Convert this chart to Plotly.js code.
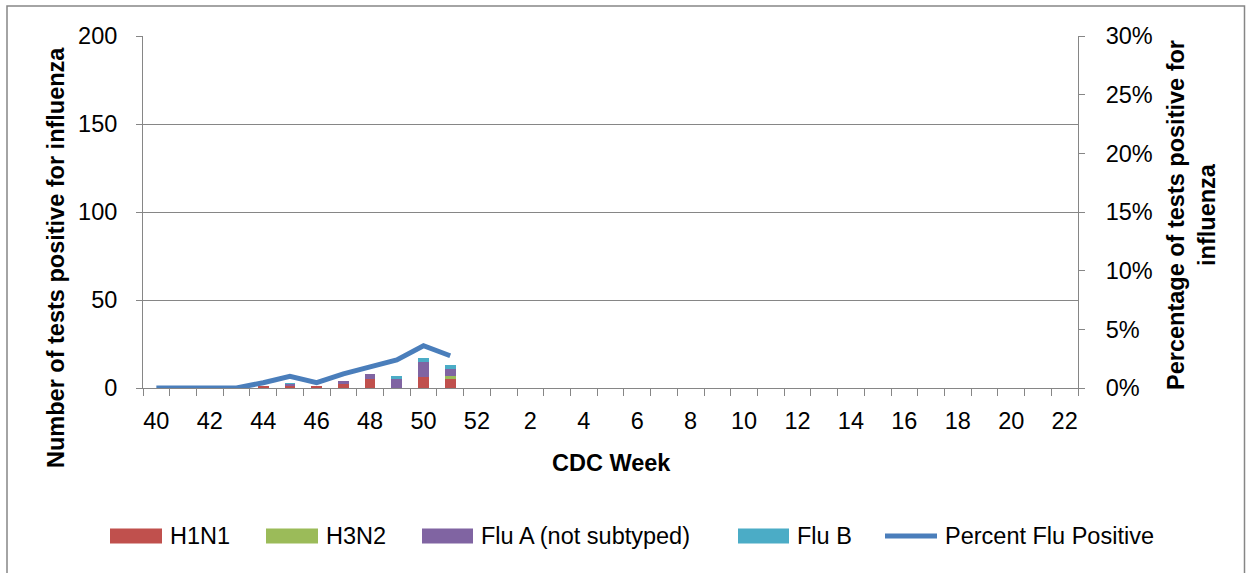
<!DOCTYPE html>
<html>
<head>
<meta charset="utf-8">
<script src="https://cdn.plot.ly/plotly-3.0.1.min.js"></script>
<style>
  html, body { margin: 0; padding: 0; background: #fff; }
  #chart { width: 1246px; height: 573px; }
</style>
</head>
<body>
<div id="chart"></div>
<script>
// ---- Data ----
const weeks = ["40","41","42","43","44","45","46","47","48","49","50","51","52",
  "1","2","3","4","5","6","7","8","9","10","11","12","13","14","15","16","17","18","19","20","21","22"];
const h1n1  = [0,0,0,0,1,1,1,2,5,0,6,5];
const h3n2  = [0,0,0,0,0,0,0,0,0,0,0,2];
const fluA  = [0,0,0,0,0,1,0,2,3,5,9,4];
const fluB  = [0,0,0,0,0,1,0,0,0,2,2,2];
const pctPositive = [0,0,0,0,0.0045,0.010,0.0045,0.012,0.018,0.024,0.036,0.0275];
const seriesNames = ["H1N1","H3N2","Flu A (not subtyped)","Flu B","Percent Flu Positive"];
const tickLabels = weeks.map((w, i) => (i % 2 === 0 ? w : ""));

// ---- Styles ----
const colors = ["#C0504D","#9BBB59","#8064A2","#4BACC6","#4A7EBB"];
const FONT = "Liberation Sans, Arial, sans-serif";
const FS = 23.5;
const GRID = "#868686";

// plot area in pixels
const L = 143, R = 1078, T = 36, B = 388;
const W = R - L, H = B - T;
const px2x = p => (p - L) / W;
const py2y = p => (B - p) / H;

const barSeries = [h1n1, h3n2, fluA, fluB];
const traces = barSeries.map((vals, i) => ({
  type: "bar",
  name: seriesNames[i],
  x: weeks.slice(0, vals.length),
  y: vals,
  marker: { color: colors[i], line: { width: 0 } },
  showlegend: false,
  hoverinfo: "x+y+name"
}));
traces.push({
  type: "scatter",
  mode: "lines",
  name: seriesNames[4],
  x: weeks.slice(0, pctPositive.length),
  y: pctPositive,
  yaxis: "y2",
  line: { color: colors[4], width: 5 },
  showlegend: false
});

// manual legend (Excel-like wide swatches)
const legendX = [110, 266, 422, 738, 883];
const legendTextGap = [58, 58, 57, 57, 60];
const legendSwatchW = [52, 52, 51, 51, 56];
const legendY = 536;
const shapes = [];
const annotations = [];
seriesNames.forEach((name, i) => {
  if (i < 4) {
    shapes.push({
      type: "rect", xref: "paper", yref: "paper",
      x0: px2x(legendX[i]), x1: px2x(legendX[i] + legendSwatchW[i]),
      y0: py2y(legendY + 7.5), y1: py2y(legendY - 7.5),
      fillcolor: colors[i], line: { width: 0 }
    });
  } else {
    shapes.push({
      type: "line", xref: "paper", yref: "paper",
      x0: px2x(legendX[i] + 2), x1: px2x(legendX[i] + legendSwatchW[i] - 2),
      y0: py2y(legendY), y1: py2y(legendY),
      line: { color: colors[i], width: 5 }
    });
  }
  annotations.push({
    xref: "paper", yref: "paper",
    x: px2x(legendX[i] + legendTextGap[i]), y: py2y(legendY),
    xanchor: "left", yanchor: "middle",
    text: name, showarrow: false,
    font: { family: FONT, size: FS, color: "#000" }
  });
});

// outer chart border
shapes.push({
  type: "rect", xref: "paper", yref: "paper",
  x0: px2x(7), x1: px2x(1244.5), y0: py2y(620), y1: py2y(6),
  line: { color: GRID, width: 1.5 }, fillcolor: "rgba(0,0,0,0)"
});

// axis titles
annotations.push({
  xref: "paper", yref: "paper", x: px2x(56), y: py2y(258),
  xanchor: "center", yanchor: "middle", textangle: -90,
  text: "<b>Number of tests positive for influenza</b>", showarrow: false,
  font: { family: FONT, size: FS, color: "#000" }
});
annotations.push({
  xref: "paper", yref: "paper", x: px2x(1191), y: py2y(215),
  xanchor: "center", yanchor: "middle", textangle: -90,
  text: "<b>Percentage of tests positive for<br>influenza</b>", showarrow: false,
  font: { family: FONT, size: FS, color: "#000" }
});
annotations.push({
  xref: "paper", yref: "paper", x: px2x(611), y: py2y(463),
  xanchor: "center", yanchor: "middle",
  text: "<b>CDC Week</b>", showarrow: false,
  font: { family: FONT, size: FS, color: "#000" }
});

const layout = {
  width: 1246, height: 573,
  margin: { l: L, r: 1246 - R, t: T, b: 573 - B, pad: 0 },
  paper_bgcolor: "#fff", plot_bgcolor: "#fff",
  font: { family: FONT, size: FS, color: "#000" },
  barmode: "stack",
  bargap: 0.6,
  showlegend: false,
  xaxis: {
    type: "category",
    categoryorder: "array", categoryarray: weeks,
    tickmode: "array", tickvals: weeks, ticktext: tickLabels,
    tickson: "boundaries",
    tickangle: 0,
    ticks: "outside", ticklen: 7, tickcolor: GRID, tickwidth: 1,
    showline: true, linecolor: GRID, linewidth: 1,
    showgrid: false, zeroline: false,
    ticklabelstandoff: 12,
    tickfont: { family: FONT, size: FS, color: "#000" },
    range: [-0.5, weeks.length - 0.5]
  },
  yaxis: {
    range: [0, 200], dtick: 50, tick0: 0,
    ticks: "outside", ticklen: 6, tickcolor: GRID, tickwidth: 1,
    showline: true, linecolor: GRID, linewidth: 1,
    showgrid: true, gridcolor: GRID, gridwidth: 1,
    zeroline: false,
    ticklabelstandoff: 14,
    tickfont: { family: FONT, size: FS, color: "#000" }
  },
  yaxis2: {
    overlaying: "y", side: "right",
    range: [0, 0.3], dtick: 0.05, tick0: 0, tickformat: ".0%",
    ticks: "outside", ticklen: 6, tickcolor: GRID, tickwidth: 1,
    showline: true, linecolor: GRID, linewidth: 1,
    showgrid: false, zeroline: false,
    ticklabelstandoff: 16,
    tickfont: { family: FONT, size: FS, color: "#000" }
  },
  shapes: shapes,
  annotations: annotations
};

Plotly.newPlot("chart", traces, layout, { displayModeBar: false, staticPlot: true });
</script>
</body>
</html>
